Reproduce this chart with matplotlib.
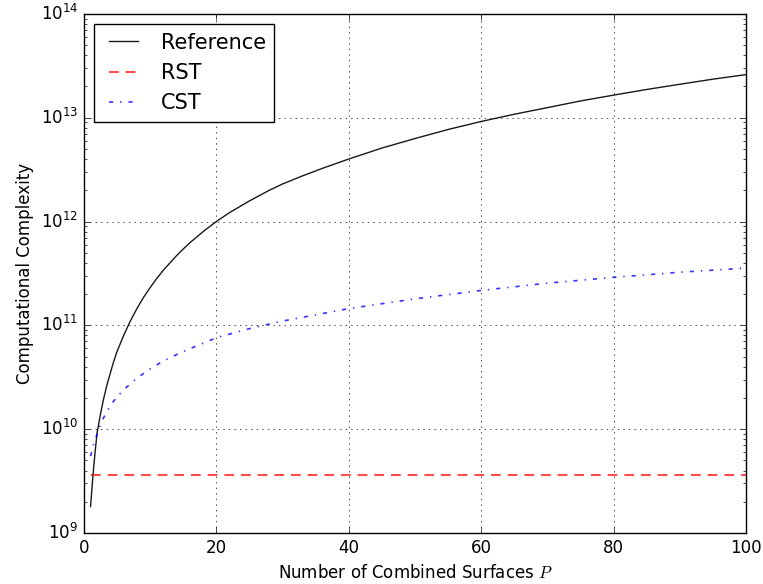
import numpy as np
import matplotlib
matplotlib.use("Agg")
import matplotlib.pyplot as plt

plt.style.use('classic')

# values
P_ref = [1, 1.25, 1.5, 1.75, 2, 2.5, 3, 3.5, 4, 4.5, 5, 6, 7, 8, 9, 10, 11, 12, 13, 14,
         15, 16, 18, 20, 22, 25, 28, 30, 33, 36, 40, 45, 50, 55, 60, 65, 70, 75, 80,
         85, 90, 95, 100]
C_ref = [1.8e9, 2.9e9, 4.5e9, 6.6e9, 9.3e9, 1.4e10, 2.0e10, 2.7e10, 3.5e10, 4.5e10,
         5.6e10, 8.0e10, 1.1e11, 1.45e11, 1.86e11, 2.31e11, 2.83e11, 3.4e11, 4.0e11,
         4.7e11, 5.44e11, 6.24e11, 8.0e11, 1.0e12, 1.22e12, 1.58e12, 2.0e12, 2.3e12,
         2.75e12, 3.25e12, 4.0e12, 5.1e12, 6.3e12, 7.7e12, 9.2e12, 1.08e13, 1.25e13,
         1.45e13, 1.65e13, 1.87e13, 2.1e13, 2.35e13, 2.6e13]

P_rst = [1, 100]
C_rst = [3.6e9, 3.6e9]

P_cst = [1, 1.5, 2, 2.5, 3, 4, 5, 6, 8, 10, 12, 15, 20, 25, 30, 40, 50, 60, 70, 80, 90, 100]
C_cst = [5.5e9, 7.3e9, 9.0e9, 1.1e10, 1.3e10, 1.7e10, 2.05e10, 2.4e10, 3.1e10, 3.8e10,
         4.55e10, 5.6e10, 7.6e10, 9.3e10, 1.1e11, 1.45e11, 1.8e11, 2.17e11, 2.55e11,
         2.9e11, 3.25e11, 3.56e11]

fig = plt.figure(figsize=(7.63, 5.84), dpi=100, facecolor='white')
ax = fig.add_axes([0.110, 0.0873, 0.868, 0.889])

ax.semilogy(P_ref, C_ref, 'k-', lw=1, alpha=0.9, label='Reference')
ax.semilogy(P_rst, C_rst, 'r--', lw=1.5, alpha=0.7, dashes=(7, 5), label='RST')
ax.semilogy(P_cst, C_cst, 'b-.', lw=1.2, alpha=0.8, label='CST')

ax.set_xlim(0, 100)
ax.set_ylim(1e9, 1e14)
ax.grid(True)
ax.set_xlabel('Number of Combined Surfaces $P$', fontsize=12)
ax.set_ylabel('Computational Complexity', fontsize=12)
ax.tick_params(labelsize=12)

leg = ax.legend(loc='upper left', fontsize=15)
leg.get_frame().set_linewidth(1)

fig.savefig('out.png', dpi=100, facecolor='white')
